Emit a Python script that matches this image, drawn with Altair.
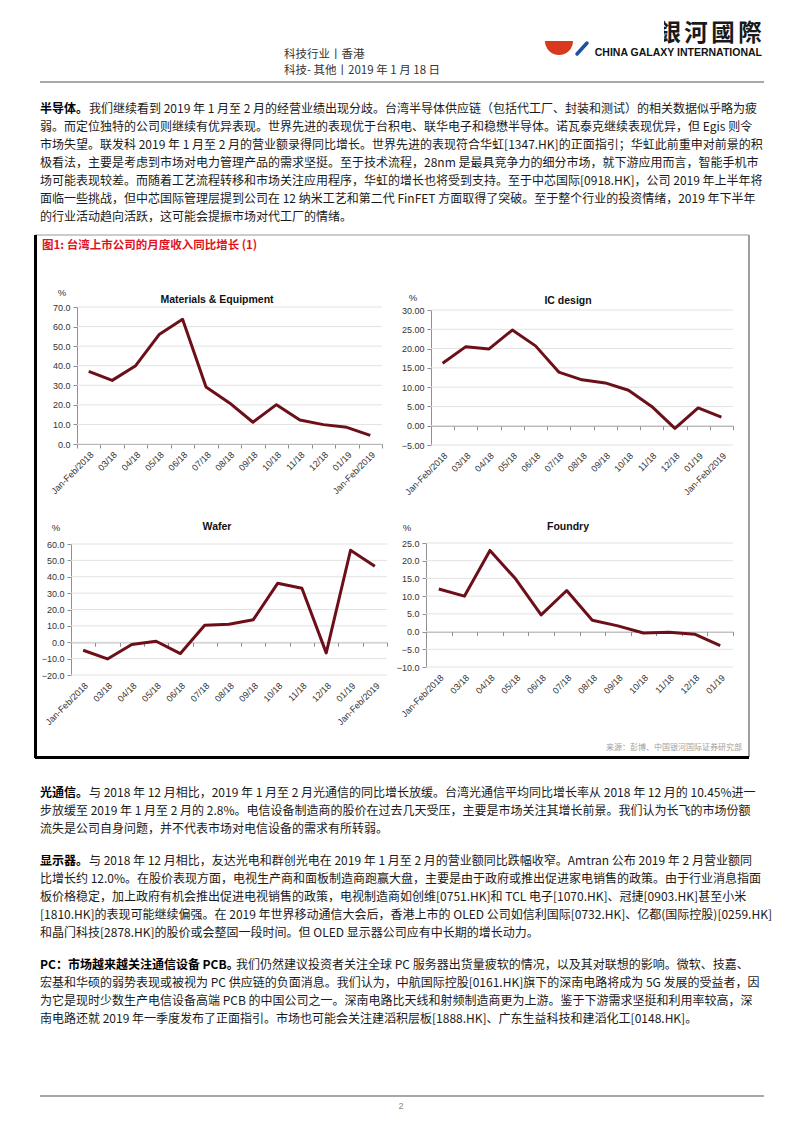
import math
import altair as alt
import pandas as pd

# ---------------- data ----------------
months = ["Jan-Feb/2018", "03/18", "04/18", "05/18", "06/18", "07/18", "08/18",
          "09/18", "10/18", "11/18", "12/18", "01/19", "Jan-Feb/2019"]
foundry_months = months[:12]

mat_vals = [37.1, 32.5, 40.0, 55.9, 63.7, 29.1, 21.0, 11.1, 20.1, 12.3, 9.9, 8.5, 4.4]
ic_vals = [16.2, 20.5, 19.9, 24.8, 20.7, 13.9, 11.9, 11.1, 9.2, 5.0, -0.7, 4.6, 2.2]
wafer_vals = [-4.9, -10.2, -1.4, 0.6, -6.9, 10.4, 11.0, 13.8, 36.0, 33.0, -6.5, 56.2, 46.4]
foundry_vals = [12.0, 10.0, 22.9, 14.9, 4.7, 11.6, 3.2, 1.6, -0.4, -0.2, -0.75, -3.95]

panel_titles = ["Materials & Equipment", "IC design", "Wafer", "Foundry"]

header_lines = ["科技行业丨香港", "科技- 其他丨2019 年 1 月 18 日"]
logo_chars = ["中", "國", "銀", "河", "國", "際"]
logo_en = "CHINA GALAXY INTERNATIONAL"
fig_title = "图1: 台湾上市公司的月度收入同比增长 (1)"
source_text = "来源：彭博、中国银河国际证券研究部"
page_no = "2"

p1_lead = "半导体。"
p1_lines = [
    "我们继续看到 2019 年 1 月至 2 月的经营业绩出现分歧。台湾半导体供应链（包括代工厂、封装和测试）的相关数据似乎略为疲",
    "弱。而定位独特的公司则继续有优异表现。世界先进的表现优于台积电、联华电子和稳懋半导体。诺瓦泰克继续表现优异，但 Egis 则令",
    "市场失望。联发科 2019 年 1 月至 2 月的营业额录得同比增长。世界先进的表现符合华虹[1347.HK]的正面指引；华虹此前重申对前景的积",
    "极看法，主要是考虑到市场对电力管理产品的需求坚挺。至于技术流程，28nm 是最具竞争力的细分市场，就下游应用而言，智能手机市",
    "场可能表现较差。而随着工艺流程转移和市场关注应用程序，华虹的增长也将受到支持。至于中芯国际[0918.HK]，公司 2019 年上半年将",
    "面临一些挑战，但中芯国际管理层提到公司在 12 纳米工艺和第二代 FinFET 方面取得了突破。至于整个行业的投资情绪，2019 年下半年",
    "的行业活动趋向活跃，这可能会提振市场对代工厂的情绪。",
]
p2_lead = "光通信。"
p2_lines = [
    "与 2018 年 12 月相比，2019 年 1 月至 2 月光通信的同比增长放缓。台湾光通信平均同比增长率从 2018 年 12 月的 10.45%进一",
    "步放缓至 2019 年 1 月至 2 月的 2.8%。电信设备制造商的股价在过去几天受压，主要是市场关注其增长前景。我们认为长飞的市场份额",
    "流失是公司自身问题，并不代表市场对电信设备的需求有所转弱。",
]
p3_lead = "显示器。"
p3_lines = [
    "与 2018 年 12 月相比，友达光电和群创光电在 2019 年 1 月至 2 月的营业额同比跌幅收窄。Amtran 公布 2019 年 2 月营业额同",
    "比增长约 12.0%。在股价表现方面，电视生产商和面板制造商跑赢大盘，主要是由于政府或推出促进家电销售的政策。由于行业消息指面",
    "板价格稳定，加上政府有机会推出促进电视销售的政策，电视制造商如创维[0751.HK]和 TCL 电子[1070.HK]、冠捷[0903.HK]甚至小米",
    "[1810.HK]的表现可能继续偏强。在 2019 年世界移动通信大会后，香港上市的 OLED 公司如信利国际[0732.HK]、亿都(国际控股)[0259.HK]",
    "和晶门科技[2878.HK]的股价或会整固一段时间。但 OLED 显示器公司应有中长期的增长动力。",
]
p4_lead = "PC：市场越来越关注通信设备 PCB。"
p4_lines = [
    "我们仍然建议投资者关注全球 PC 服务器出货量疲软的情况，以及其对联想的影响。微软、技嘉、",
    "宏基和华硕的弱势表现或被视为 PC 供应链的负面消息。我们认为，中航国际控股[0161.HK]旗下的深南电路将成为 5G 发展的受益者，因",
    "为它是现时少数生产电信设备高端 PCB 的中国公司之一。深南电路比天线和射频制造商更为上游。鉴于下游需求坚挺和利用率较高，深",
    "南电路还就 2019 年一季度发布了正面指引。市场也可能会关注建滔积层板[1888.HK]、广东生益科技和建滔化工[0148.HK]。",
]

# ---------------- style / layout ----------------
LINE_COLOR = "#6d0f18"
AX = "#8f8f8f"
GRID = "#e2e2e2"
CH_FONT = "Liberation Sans"
CJK = "Noto Sans CJK SC"
BODY = 12
LH = 18
W, H = 786, 1117          # whole page minus the 8px body margin
OX, OY = 8, 8             # page -> chart coordinates


def one():
    return pd.DataFrame({"a": [0]})


def panel(title, cats, vals, dmin, dmax, step, fmt, left, right, top, bottom, tx, ty, px, py):
    l, r, t, b = left - OX, right - OX, top - OY, bottom - OY
    zero_y = b - (0 - dmin) / (dmax - dmin) * (b - t)
    ticks = list(range(dmin, dmax + step, step))
    df = pd.DataFrame({"cat": cats, "v": vals, "idx": list(range(len(cats)))})
    grid_df = pd.DataFrame({"v": ticks})

    yenc = alt.Y("v:Q", title=None,
                 scale=alt.Scale(domain=[dmin, dmax], nice=False, zero=False, range=[b, t]),
                 axis=alt.Axis(orient="left", offset=-l, values=ticks, format=fmt, grid=False,
                               domainColor=AX, tickColor=AX, tickSize=4, labelPadding=3,
                               labelFont=CH_FONT, labelFontSize=9, labelColor="#333333",
                               zindex=0))
    xenc = alt.X("cat:N", sort=cats, title=None, bandPosition=0.5,
                 scale=alt.Scale(type="band", paddingInner=0, paddingOuter=0, range=[l, r]),
                 axis=alt.Axis(orient="bottom", offset=-(H - zero_y), tickBand="extent",
                               labelAngle=-45, labelAlign="right", labelBaseline="top",
                               labelPadding=(b - zero_y) + 2,
                               domainColor=AX, tickColor=AX, tickSize=4, domainWidth=1,
                               labelFont=CH_FONT, labelFontSize=9, labelColor="#333333",
                               grid=False, labelOverlap=False, zindex=0))
    grid = alt.Chart(grid_df).mark_rule(color=GRID, strokeWidth=1).encode(
        y=yenc, x=alt.value(l), x2=alt.value(r))
    line = alt.Chart(df).mark_line(color=LINE_COLOR, strokeWidth=3, strokeJoin="round").encode(
        x=xenc, y=yenc, order="idx:Q")
    ttl = alt.Chart(pd.DataFrame({"t": [title]})).mark_text(
        font=CH_FONT, fontSize=10.5, fontWeight="bold", color="#111111",
        align="center", baseline="middle").encode(
        text="t:N", x=alt.value(tx - OX), y=alt.value(ty - OY))
    pct = alt.Chart(pd.DataFrame({"t": ["%"]})).mark_text(
        font=CH_FONT, fontSize=9.5, color="#333333", align="center", baseline="middle").encode(
        text="t:N", x=alt.value(px - OX), y=alt.value(py - OY))
    return alt.layer(grid, line, ttl, pct)


def text_rows(texts, x, y0, dy, size=BODY, weight="normal", color="#1a1a1a",
              font=CJK, align="left", dx=0):
    df = pd.DataFrame({"t": texts,
                       "px": [x + i * dx - OX for i in range(len(texts))],
                       "py": [y0 + i * dy - OY for i in range(len(texts))]})
    return alt.Chart(df).mark_text(font=font, fontSize=size, fontWeight=weight, color=color,
                                   align=align, baseline="middle").encode(
        x=alt.X("px:Q", scale=None, axis=None), y=alt.Y("py:Q", scale=None, axis=None), text="t:N")


def hrule(x1, x2, y, color, width):
    return alt.Chart(one()).mark_rule(color=color, strokeWidth=width).encode(
        x=alt.value(x1 - OX), x2=alt.value(x2 - OX), y=alt.value(y - OY), y2=alt.value(y - OY))


def vrule(x, y1, y2, color, width):
    return alt.Chart(one()).mark_rule(color=color, strokeWidth=width).encode(
        x=alt.value(x - OX), x2=alt.value(x - OX), y=alt.value(y1 - OY), y2=alt.value(y2 - OY))


def paragraph(lead, lines, lead_w, y0):
    return [
        text_rows([lead], 40, y0, LH, weight="bold", color="#000000"),
        text_rows(lines[:1], 40 + lead_w, y0, LH),
        text_rows(lines[1:], 40, y0 + LH, LH),
    ]


LOGO_PITCH = 27
page_layers = [
    # header
    text_rows(header_lines, 284, 55, 16, size=11.5, color="#333333"),
    text_rows(logo_chars, 750 - LOGO_PITCH * (len(logo_chars) - 1), 34, 0, size=23.5,
              weight="bold", color="#1a1a1a", font="Noto Sans CJK TC", align="center",
              dx=LOGO_PITCH),
    alt.Chart(one()).mark_rect(color="white").encode(
        x=alt.value(589 - OX), x2=alt.value(664 - OX), y=alt.value(12 - OY), y2=alt.value(47 - OY)),
    alt.Chart(one()).mark_arc(
        radius=14, theta=math.pi / 2, theta2=3 * math.pi / 2, color="#d8391f").encode(
        x=alt.value(559 - OX), y=alt.value(41 - OY)),
    alt.Chart(one()).mark_rule(color="#1f4f9e", strokeWidth=3.5, strokeCap="round").encode(
        x=alt.value(577 - OX), x2=alt.value(587 - OX), y=alt.value(54 - OY), y2=alt.value(43 - OY)),
    text_rows([logo_en], 762, 52.5, 0, size=10.5, weight="bold", color="#111111",
              font=CH_FONT, align="right"),
    hrule(40, 764, 82, "#a8a8a8", 2),
    *paragraph(p1_lead, p1_lines, 49, 109),
    # figure box
    hrule(35, 749, 235, "#9a9a9a", 1.2),
    vrule(749, 235, 757, "#a0a0a0", 2),
    vrule(35.5, 235, 758, "#000000", 3),
    hrule(35, 749, 757.5, "#000000", 3),
    text_rows([fig_title], 42, 246, 0, size=11.5, weight="bold", color="#e0141e"),
    text_rows([source_text], 742, 748, 0, size=8, color="#a0a0a0", align="right"),
    # lower text
    *paragraph(p2_lead, p2_lines, 49, 793),
    *paragraph(p3_lead, p3_lines, 49, 861),
    *paragraph(p4_lead, p4_lines, 196, 965),
    hrule(40, 764, 1096, "#a8a8a8", 2),
    text_rows([page_no], 401, 1106, 0, size=9, color="#888888", font=CH_FONT, align="center"),
]

mat = panel(panel_titles[0], months, mat_vals, 0, 70, 10, ".1f", 77, 382, 307, 444, 217, 300, 62, 293)
ic = panel(panel_titles[1], months, ic_vals, -5, 30, 5, ".2f", 431, 733, 310, 445, 568, 301, 413, 298)
wafer = panel(panel_titles[2], months, wafer_vals, -20, 60, 10, ".1f", 71, 387, 544, 675, 217, 527, 56, 528)
foundry = panel(panel_titles[3], foundry_months, foundry_vals, -10, 25, 5, ".1f", 426, 733, 543, 667, 568, 527, 407, 528)

chart = alt.layer(*page_layers, mat, ic, wafer, foundry).resolve_scale(
    x="independent", y="independent").properties(
    width=W, height=H, padding=0, background="white").configure_view(stroke=None)

chart.save("out.html", embed_options={"renderer": "svg", "actions": False})
